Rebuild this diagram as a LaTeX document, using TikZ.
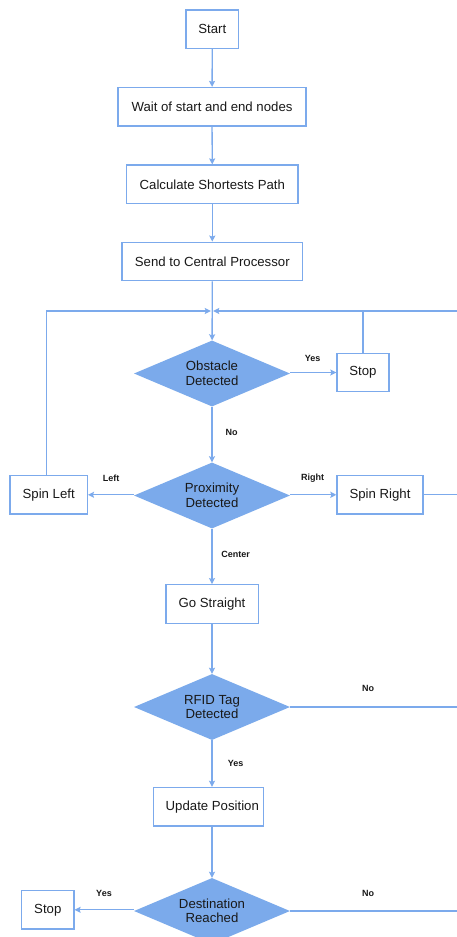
\documentclass[tikz,border=0pt]{standalone}
\usepackage{fontspec}
\setmainfont{Liberation Sans}
\usetikzlibrary{shapes.geometric,arrows.meta}
\definecolor{flowblue}{RGB}{124,170,236}
\definecolor{fillblue}{RGB}{123,170,235}
\definecolor{txt}{RGB}{25,25,25}
\tikzset{
  procbox/.style={draw=flowblue, line width=1.3pt, fill=white, minimum height=38.5pt, inner sep=0pt, text=txt, font=\fontsize{13.2}{14.5}\selectfont},
  decision/.style={diamond, fill=fillblue, draw=none, minimum width=156pt, minimum height=66pt, aspect=2.36, inner sep=0pt, align=center, text=txt, font=\fontsize{13.2}{14.5}\selectfont},
  conn/.style={draw=flowblue, line width=1.3pt},
  arr/.style={conn, -{Stealth[length=6pt,width=6pt,inset=1pt]}},
  lbl/.style={font=\fontsize{9}{10}\selectfont\bfseries, text=txt, inner sep=0pt}
}
\begin{document}
\begin{tikzpicture}[x=1pt,y=-1pt]
\fill[white] (0,0) rectangle (457,937);
\useasboundingbox (0,0) rectangle (457,937);

\node[procbox, minimum width=52.7pt] (start) at (212.3,29.3) {Start};
\node[procbox, minimum width=188pt] (wait) at (212,106.8) {Wait of start and end nodes};
\node[procbox, minimum width=171.3pt] (calc) at (212.3,184.3) {Calculate Shortests Path};
\node[procbox, minimum width=180.7pt] (send) at (212.3,261.5) {Send to Central Processor};
\node[decision] (obst) at (212,373.5) {Obstacle\\Detected};
\node[procbox, minimum width=52pt] (stopa) at (363,372.5) {Stop};
\node[decision] (prox) at (212,495.5) {Proximity\\Detected};
\node[procbox, minimum width=77.3pt] (spinl) at (48.7,494.8) {Spin Left};
\node[procbox, minimum width=86pt] (spinr) at (380,494.8) {Spin Right};
\node[procbox, minimum width=92.3pt] (go) at (212,604) {Go Straight};
\node[decision] (rfid) at (212,707) {RFID Tag\\Detected};
\node[procbox, minimum width=110pt] (upd) at (208.3,806.7) {\hspace*{8pt}Update Position};
\node[decision] (dest) at (212,911) {Destination\\Reached};
\node[procbox, minimum width=52.3pt] (stopb) at (47.8,909.8) {Stop};

\coordinate (jl) at (46.7,311);
\coordinate (jc) at (212,311);
\coordinate (jr) at (457,311);
\coordinate (js) at (363,311);

\draw[arr] (start) -- (wait);
\draw[arr] (wait) -- (calc);
\draw[arr] (calc) -- (send);
\draw[arr] (send) -- (obst);
\draw[arr] (obst.east |- stopa) -- (stopa);
\draw[arr] (obst) -- (prox);
\draw[arr] (prox.west |- spinl) -- (spinl);
\draw[arr] (prox.east |- spinr) -- (spinr);
\draw[arr] (prox) -- (go);
\draw[arr] (go) -- (rfid);
\draw[arr] (rfid.south) -- (rfid.south |- upd.north);
\draw[arr] (upd.north -| dest.north) ++(0,38.6) -- (dest);
\draw[arr] (dest.west |- stopb) -- (stopb);

\draw[arr] (spinl.north -| jl) -- (jl) -- ([xshift=-1.2pt]jc);
\draw[arr] (jr) -- ([xshift=1.2pt]jc);
\draw[conn] (stopa.north) -- (js);
\draw[conn] (spinr.east) -- (spinr.east -| jr);
\draw[conn] (rfid.east) -- (rfid.east -| jr);
\draw[conn] (dest.east) -- (dest.east -| jr);

\node[lbl] at (312.7,358) {Yes};
\node[lbl] at (231.7,432.7) {No};
\node[lbl] at (111,478.7) {Left};
\node[lbl] at (312.7,478) {Right};
\node[lbl] at (235.7,554.7) {Center};
\node[lbl] at (368,688) {No};
\node[lbl] at (235.7,763) {Yes};
\node[lbl] at (104,893) {Yes};
\node[lbl] at (368,893) {No};
\end{tikzpicture}
\end{document}
